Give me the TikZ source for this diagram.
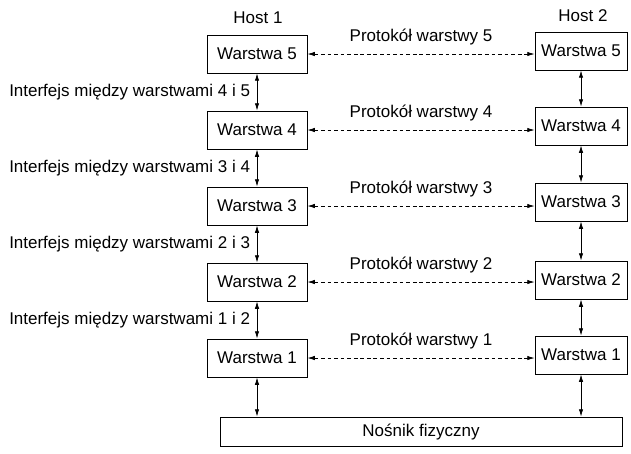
\documentclass[tikz,border=0pt]{standalone}
\usepackage{fontspec}
\setmainfont{Liberation Sans}
\usetikzlibrary{arrows.meta}

\tikzset{
  warstwa/.style={draw, line width=0.7pt, minimum height=11.4mm, inner sep=0pt,
    font=\fontsize{14.5}{17}\selectfont},
  lacze/.style={{Latex[length=2.2mm,width=1.3mm]}-{Latex[length=2.2mm,width=1.3mm]}, line width=0.6pt},
  protokol/.style={lacze, dash pattern=on 3.2pt off 2.4pt},
  opis/.style={font=\fontsize{14.5}{17}\selectfont, inner sep=0pt}
}

\begin{document}
\begin{tikzpicture}[x=0.3mm, y=-0.3mm]
\useasboundingbox (0,0) rectangle (631,453);
% hosty
\node[opis] (host1) at (258,18) {Host 1};
\node[opis] (host2) at (583,16) {Host 2};
% warstwy
\foreach \n/\yl/\yr in {5/54/51, 4/130/126, 3/206/202, 2/282/280, 1/358/355} {
  \node[warstwa, minimum width=30mm] (l\n) at (257,\yl) {Warstwa \n};
  \node[warstwa, minimum width=27.6mm] (r\n) at (581,\yr) {Warstwa \n};
  \draw[protokol] (l\n.east) -- (l\n.east -| r\n.west)
    node[opis, midway, above=2.6mm] {Protokół warstwy \n};
}
% interfejsy
\foreach \n/\m in {5/4, 4/3, 3/2, 2/1} {
  \draw[lacze] (l\n.south) -- (l\m.north)
    node[opis, midway, left=2mm] {Interfejs między warstwami \m{} i \n};
  \draw[lacze] (r\n.south) -- (r\m.north);
}
% nosnik
\node[warstwa, minimum width=120.6mm, minimum height=8.7mm] (nosnik) at (421,431.5) {Nośnik fizyczny};
\draw[lacze] (l1.south) -- (l1.south |- nosnik.north);
\draw[lacze] (r1.south) -- (r1.south |- nosnik.north);
\end{tikzpicture}
\end{document}
